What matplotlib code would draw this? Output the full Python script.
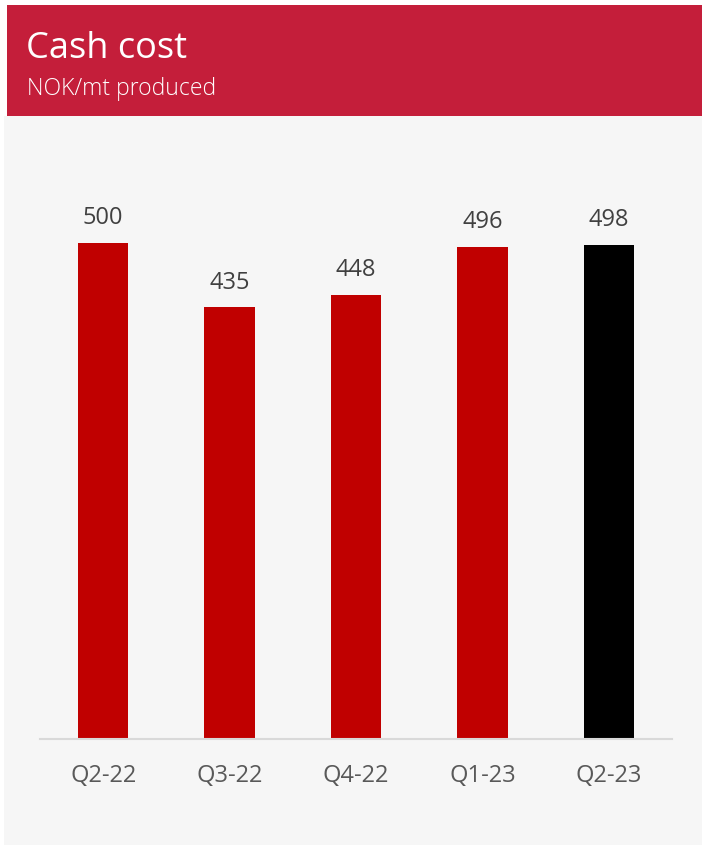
import matplotlib.pyplot as plt
from matplotlib.patches import Rectangle

quarters = ['Q2-22', 'Q3-22', 'Q4-22', 'Q1-23', 'Q2-23']
cash_cost = [500, 435, 448, 496, 498]
bar_colors = ['#C00000', '#C00000', '#C00000', '#C00000', '#000000']

W, H = 702, 846
fig = plt.figure(figsize=(W / 100, H / 100), dpi=100)
fig.patch.set_facecolor('white')

# grey panel and red header band
fig.add_artist(Rectangle((4 / W, 1 - 845 / H), (W - 4) / W, (845 - 116) / H,
                         transform=fig.transFigure, facecolor='#F6F6F6', edgecolor='none', zorder=0))
fig.add_artist(Rectangle((7 / W, 1 - 116 / H), (W - 7) / W, (116 - 5) / H,
                         transform=fig.transFigure, facecolor='#C41E3A', edgecolor='none', zorder=0))
fig.text(26 / W, 1 - 49 / H, 'Cash cost', color='white', fontsize=26,
         family='Open Sans', va='center', ha='left')
fig.text(27 / W, 1 - 89 / H, 'NOK/mt produced', color='white', fontsize=16.5,
         family='Open Sans', weight='light', va='center', ha='left')

# plot area: x 40..672 px, baseline at y=739 px
ax = fig.add_axes([40 / W, 1 - 739 / H, 632 / W, (739 - 150) / H])
ax.set_facecolor('none')
x = range(len(quarters))
bars = ax.bar(x, cash_cost, width=0.4, color=bar_colors, zorder=2)
ax.set_xlim(-0.5, len(quarters) - 0.5)
ax.set_ylim(0, (739 - 150) / 0.992)

for b, v in zip(bars, cash_cost):
    ax.annotate(f'{v}', (b.get_x() + b.get_width() / 2, v), xytext=(0, 9),
                textcoords='offset points', ha='center', va='bottom',
                fontsize=17, color='#404040', family='Open Sans')

for s in ['top', 'right', 'left']:
    ax.spines[s].set_visible(False)
ax.spines['bottom'].set_color('#D9D9D9')
ax.spines['bottom'].set_linewidth(1.5)
ax.set_yticks([])
ax.set_xticks(list(x))
ax.set_xticklabels(quarters, fontsize=17, color='#595959', family='Open Sans')
ax.tick_params(axis='x', length=0, pad=18)

fig.savefig('out.png', dpi=100, facecolor=fig.get_facecolor())
